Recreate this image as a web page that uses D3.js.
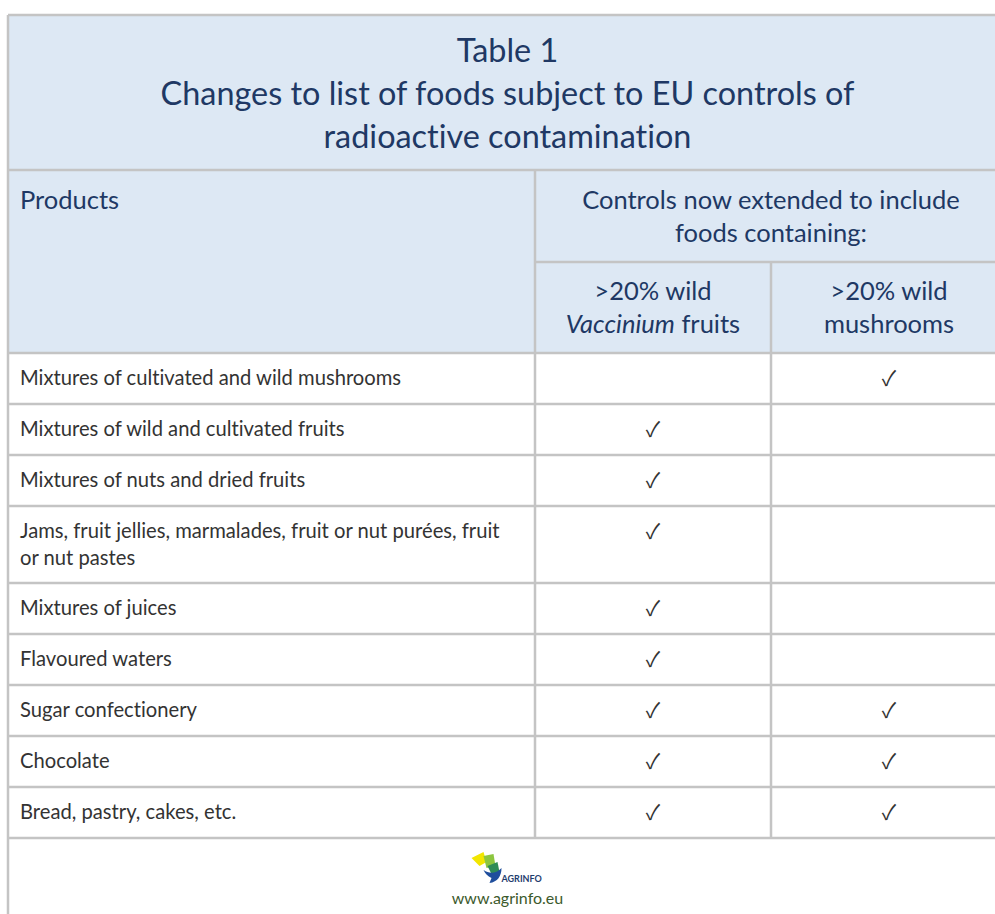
<!DOCTYPE html>
<html>
<head>
<meta charset="utf-8">
<script src="https://cdn.jsdelivr.net/npm/d3@7"></script>
<style>
  body { margin: 0; background: #fff; }
  svg { display: block; font-family: Lato, "Noto Sans", sans-serif; font-variant-ligatures: none; }
</style>
</head>
<body>
<div id="chart"></div>
<script>
// table content
const titleLines = ['Table 1', 'Changes to list of foods subject to EU controls of', 'radioactive contamination']
const headerLeft = 'Products'
const headerGroup = ['Controls now extended to include', 'foods containing:']
const columns = [
  [{t: '>20% wild'}, {t: 'Vaccinium', i: true}, {t: ' fruits'}],
  [{t: '>20% wild'}, {t: 'mushrooms'}]
]
const products = [
  ['Mixtures of cultivated and wild mushrooms'],
  ['Mixtures of wild and cultivated fruits'],
  ['Mixtures of nuts and dried fruits'],
  ['Jams, fruit jellies, marmalades, fruit or nut purées, fruit', 'or nut pastes'],
  ['Mixtures of juices'],
  ['Flavoured waters'],
  ['Sugar confectionery'],
  ['Chocolate'],
  ['Bread, pastry, cakes, etc.']
]
const vaccinium = [false, true, true, true, true, true, true, true, true]
const mushrooms = [true, false, false, false, false, false, true, true, true]
const site = 'www.agrinfo.eu'

const w = 995, h = 914
const tLeft = 8, tRight = 1007, tTop = 15
const titleBottom = 170, groupBottom = 262, headBottom = 353
const colEdges = [tLeft, 535, 771, tRight]
const grid = '#c4c4c4', band = '#dde8f4', navy = '#203864', ink = '#333333'

const svg = d3.select('#chart').append('svg')
  .attr('width', w).attr('height', h)

// row positions: 25px padding + 26px per text line
const cum = [0]
products.forEach(p => cum.push(cum[cum.length - 1] + 25 + 26 * p.length))
const yScale = d3.scaleLinear().domain([0, cum[cum.length - 1]])
  .range([headBottom, headBottom + cum[cum.length - 1]])
const rows = products.map((p, i) => ({lines: p, y0: yScale(cum[i]), y1: yScale(cum[i + 1]), v: vaccinium[i], m: mushrooms[i]}))
const tableBottom = rows[rows.length - 1].y1

const colMid = i => (colEdges[i] + colEdges[i + 1]) / 2

/* backgrounds */
svg.append('rect').attr('x', tLeft).attr('y', tTop)
  .attr('width', tRight - tLeft).attr('height', headBottom - tTop).attr('fill', band)

/* title */
const title = svg.append('text').attr('text-anchor', 'middle')
  .attr('fill', navy).attr('font-size', 32.4)
title.selectAll('tspan').data(titleLines).enter().append('tspan')
  .attr('x', (tLeft + tRight) / 2)
  .attr('y', (d, i) => 62 + i * 43)
  .text(d => d)

/* header */
svg.append('text').attr('x', tLeft + 12).attr('y', 209)
  .attr('fill', navy).attr('font-size', 25.5).text(headerLeft)

svg.append('text').attr('text-anchor', 'middle').attr('fill', navy).attr('font-size', 25.5)
  .selectAll('tspan').data(headerGroup).enter().append('tspan')
  .attr('x', (colEdges[1] + tRight) / 2)
  .attr('y', (d, i) => 209 + i * 33)
  .text(d => d)

columns.forEach((parts, ci) => {
  const t = svg.append('text').attr('text-anchor', 'middle').attr('fill', navy).attr('font-size', 25.5)
  t.append('tspan').attr('x', colMid(ci + 1)).attr('y', 300).text(parts[0].t)
  const second = t.append('tspan').attr('x', colMid(ci + 1)).attr('y', 333)
  parts.slice(1).forEach((p, k) => {
    if (k === 0) second.text(p.t).attr('font-style', p.i ? 'italic' : null)
    else t.append('tspan').text(p.t).attr('font-style', p.i ? 'italic' : null)
  })
})

/* body rows */
const g = svg.append('g').attr('class', 'rows')
const row = g.selectAll('g').data(rows).enter().append('g')

row.append('text').attr('fill', ink).attr('font-size', 20.2)
  .selectAll('tspan').data(d => d.lines.map((l, k) => ({l, y: d.y0 + 32 + k * 27})))
  .enter().append('tspan').attr('x', tLeft + 12).attr('y', d => d.y).text(d => d.l)

const checkFont = '"Noto Sans CJK SC", "DejaVu Sans", sans-serif'
row.filter(d => d.v).append('text').attr('text-anchor', 'middle').attr('fill', ink)
  .attr('font-size', 21).attr('font-family', checkFont)
  .attr('x', colMid(1)).attr('y', d => d.y0 + 33).text('✓')

row.filter(d => d.m).append('text').attr('text-anchor', 'middle').attr('fill', ink)
  .attr('font-size', 21).attr('font-family', checkFont)
  .attr('x', colMid(2)).attr('y', d => d.y0 + 33).text('✓')

/* grid lines */
const lines = svg.append('g').attr('stroke', grid).attr('stroke-width', 2.5).attr('fill', 'none')
lines.append('line').attr('x1', tLeft).attr('x2', tRight).attr('y1', tTop).attr('y2', tTop)
lines.append('line').attr('x1', tLeft).attr('x2', tRight).attr('y1', titleBottom).attr('y2', titleBottom)
lines.append('line').attr('x1', colEdges[1]).attr('x2', tRight).attr('y1', groupBottom).attr('y2', groupBottom)
lines.append('line').attr('x1', tLeft).attr('x2', tRight).attr('y1', headBottom).attr('y2', headBottom)
lines.selectAll('.hr').data(rows).enter().append('line').attr('class', 'hr')
  .attr('x1', tLeft).attr('x2', tRight).attr('y1', d => d.y1).attr('y2', d => d.y1)
lines.append('line').attr('x1', tLeft).attr('x2', tLeft).attr('y1', tTop).attr('y2', h)
lines.append('line').attr('x1', colEdges[1]).attr('x2', colEdges[1]).attr('y1', titleBottom).attr('y2', tableBottom)
lines.append('line').attr('x1', colEdges[2]).attr('x2', colEdges[2]).attr('y1', groupBottom).attr('y2', tableBottom)

/* footer logo */
const cx = (tLeft + tRight) / 2
const logo = svg.append('g').attr('transform', `translate(${cx - 36},852)`)
logo.append('path').attr('d', 'M0,6 L12,0 L15,10 L8,14 Z').attr('fill', '#f2e600')
logo.append('path').attr('d', 'M12,4 L22,2 L24,14 L15,16 Z').attr('fill', '#8cc63f')
logo.append('path').attr('d', 'M16,14 L26,10 L28,20 L20,22 Z').attr('fill', '#2e8b57')
logo.append('path').attr('d', 'M12,18 C18,22 24,22 30,16 C30,24 26,30 18,31 L20,26 C16,24 14,22 12,18 Z').attr('fill', '#1f4e9c')
logo.append('text').attr('x', 30).attr('y', 30).attr('font-size', 9).attr('font-weight', 'bold')
  .attr('fill', '#1f3d6e').text('AGRINFO')

svg.append('text').attr('x', cx).attr('y', 904).attr('text-anchor', 'middle')
  .attr('font-size', 16).attr('fill', '#3c5a2c').text(site)
</script>
</body>
</html>
